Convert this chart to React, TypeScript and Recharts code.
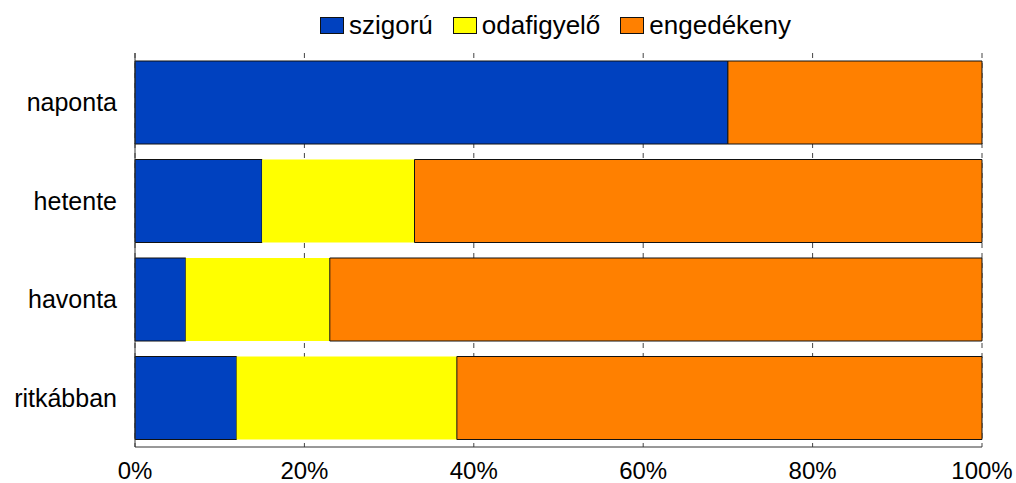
import { Bar, BarChart, CartesianGrid, XAxis, YAxis } from 'recharts';

const categories = ['naponta', 'hetente', 'havonta', 'ritkábban'];
const szigoru = [70, 15, 6, 12];
const odafigyelo = [0, 18, 17, 26];
const engedekeny = [30, 67, 77, 62];
const xTicks = [0, 20, 40, 60, 80, 100];

const series = [
  { key: 'szigoru', label: 'szigorú', color: '#0041bf', stroke: '#111' },
  { key: 'odafigyelo', label: 'odafigyelő', color: '#ffff00', stroke: 'none' },
  { key: 'engedekeny', label: 'engedékeny', color: '#ff8000', stroke: '#111' },
];

const data = categories.map((name, i) => ({
  name,
  szigoru: szigoru[i],
  odafigyelo: odafigyelo[i],
  engedekeny: engedekeny[i],
}));

const FONT = '"Liberation Sans", Arial, sans-serif';

export default function App() {
  return (
    <div style={{ position: 'absolute', left: 0, top: 0, width: 1016, height: 483, fontFamily: FONT }}>
      {/* legend above plot area */}
      <div
        style={{
          position: 'absolute',
          left: 132,
          width: 847,
          top: 12,
          height: 26,
          display: 'flex',
          justifyContent: 'center',
          alignItems: 'center',
          gap: 20,
          fontSize: 26,
          lineHeight: '26px',
          color: '#000',
        }}
      >
        {series.map((s) => (
          <span key={s.key} style={{ display: 'flex', alignItems: 'center' }}>
            <span
              style={{
                display: 'inline-block',
                width: 22,
                height: 15,
                background: s.color,
                border: '1px solid #111',
                marginRight: 5,
              }}
            />
            {s.label}
          </span>
        ))}
      </div>
      <BarChart
        width={1016}
        height={483}
        data={data}
        layout="vertical"
        margin={{ top: 53, right: 34, left: 0, bottom: 0 }}
        barSize={83}
      >
        <CartesianGrid
          horizontal={false}
          vertical={true}
          stroke="#444"
          strokeDasharray="5 5"
        />
        <XAxis
          type="number"
          domain={[0, 100]}
          ticks={xTicks}
          tickFormatter={(v: number) => `${v}%`}
          height={36}
          tickSize={0}
          tickMargin={15}
          axisLine={{ stroke: '#333' }}
          tick={{ fontSize: 24, fill: '#000', fontFamily: FONT }}
          interval={0}
        />
        <XAxis
          xAxisId="top"
          orientation="top"
          type="number"
          domain={[0, 100]}
          height={0}
          tick={false}
          tickLine={false}
          axisLine={{ stroke: '#333' }}
        />
        <YAxis
          type="category"
          dataKey="name"
          width={135}
          tickSize={0}
          tickMargin={18}
          axisLine={{ stroke: '#333' }}
          tick={{ fontSize: 25, fill: '#000', fontFamily: FONT }}
        />
        <YAxis
          yAxisId="right"
          orientation="right"
          type="category"
          dataKey="name"
          width={0}
          tick={false}
          tickLine={false}
          axisLine={{ stroke: '#333' }}
        />
        {series.map((s) => (
          <Bar
            key={s.key}
            dataKey={s.key}
            stackId="a"
            fill={s.color}
            stroke={s.stroke}
            strokeWidth={1}
            isAnimationActive={false}
          />
        ))}
      </BarChart>
    </div>
  );
}
